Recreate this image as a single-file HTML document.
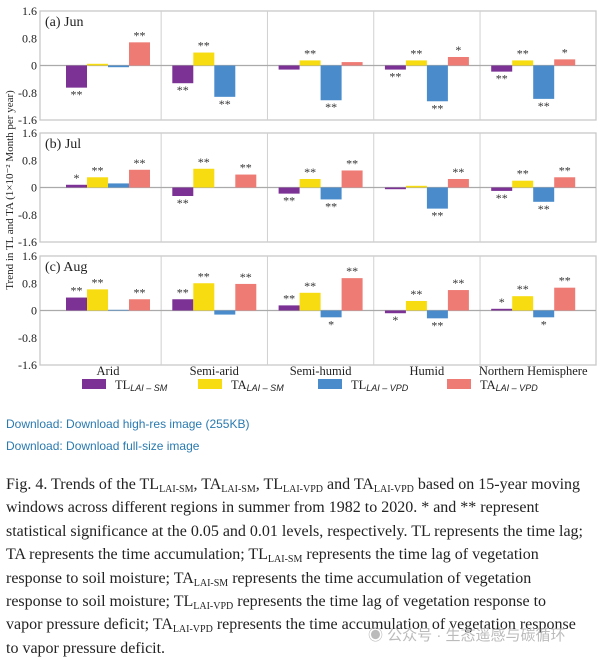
<!DOCTYPE html>
<html><head><meta charset="utf-8"><style>
body{margin:0;background:#fff;width:607px;height:659px;overflow:hidden;position:relative;font-family:"Liberation Serif",serif}
.lnk{position:absolute;left:6px;font:12px "Liberation Sans",sans-serif;color:#2a7ab0}
#cap{position:absolute;left:6px;top:473px;width:605px;font-size:16px;line-height:23.4px;color:#222;white-space:nowrap}
#cap sub{font-size:10px;vertical-align:-3px;line-height:0}
#wm{position:absolute;left:368px;top:624px;font:15px "Liberation Sans","Noto Sans CJK SC",sans-serif;color:#bbb}
</style></head><body>
<svg id="chart" width="607" height="400" style="position:absolute;left:0;top:0" font-family="Liberation Serif, serif"></svg>
<div class="lnk" style="top:417px">Download: Download high-res image (255KB)</div>
<div class="lnk" style="top:439px">Download: Download full-size image</div>
<div id="cap">Fig. 4. Trends of the TL<sub>LAI-SM</sub>, TA<sub>LAI-SM</sub>, TL<sub>LAI-VPD</sub> and TA<sub>LAI-VPD</sub> based on 15-year moving<br>windows across different regions in summer from 1982 to 2020. * and ** represent<br>statistical significance at the 0.05 and 0.01 levels, respectively. TL represents the time lag;<br>TA represents the time accumulation; TL<sub>LAI-SM</sub> represents the time lag of vegetation<br>response to soil moisture; TA<sub>LAI-SM</sub> represents the time accumulation of vegetation<br>response to soil moisture; TL<sub>LAI-VPD</sub> represents the time lag of vegetation response to<br>vapor pressure deficit; TA<sub>LAI-VPD</sub> represents the time accumulation of vegetation response<br>to vapor pressure deficit.</div>
<div id="wm">◉ 公众号 · 生态遥感与碳循环</div>
<script>
const categories=["Arid","Semi-arid","Semi-humid","Humid","Northern Hemisphere"];
const panels=["(a) Jun","(b) Jul","(c) Aug"];
const series=["TL_LAI-SM","TA_LAI-SM","TL_LAI-VPD","TA_LAI-VPD"];
const colors=["#7b3294","#f7dc11","#4a8ccb","#ee7b74"];
const junVals=[[-0.65,0.05,-0.05,0.68],[-0.52,0.38,-0.92,0],[-0.12,0.15,-1.02,0.1],[-0.12,0.15,-1.05,0.25],[-0.18,0.15,-0.98,0.18]];
const julVals=[[0.08,0.3,0.12,0.52],[-0.25,0.55,0,0.38],[-0.18,0.25,-0.35,0.5],[-0.05,0.05,-0.62,0.25],[-0.1,0.2,-0.42,0.3]];
const augVals=[[0.38,0.62,0.02,0.33],[0.33,0.8,-0.12,0.78],[0.15,0.52,-0.2,0.95],[-0.08,0.28,-0.23,0.6],[0.05,0.42,-0.2,0.67]];
const junSig=[["**","","","**"],["**","**","**",""],["","**","**",""],["**","**","**","*"],["**","**","**","*"]];
const julSig=[["*","**","","**"],["**","**","","**"],["**","**","**","**"],["","","**","**"],["**","**","**","**"]];
const augSig=[["**","**","","**"],["**","**","","**"],["**","**","*","**"],["*","**","**","**"],["*","**","*","**"]];
const ticks=[1.6,0.8,0,-0.8,-1.6];
const allVals=[junVals,julVals,augVals], allSig=[junSig,julSig,augSig];
const svg=document.getElementById('chart');const NS="http://www.w3.org/2000/svg";
function mk(t,a,p){const e=document.createElementNS(NS,t);for(const k in a)e.setAttribute(k,a[k]);(p||svg).appendChild(e);return e;}
const X0=40,X1=596,panelTop=[11,133,256],PH=109;
const cx=i=>108+i*106.3;const BW=21;
panels.forEach((pn,p)=>{
  const g=mk('g',{});
  
  
  const top=panelTop[p];
  const y=v=>top+PH/2-v*(PH/3.2);
  mk('rect',{x:X0,y:top,width:X1-X0,height:PH,fill:'none',stroke:'#c8c8c8','stroke-width':1.3},g);
  for(let i=1;i<categories.length;i++){const dx=(cx(i-1)+cx(i))/2;mk('line',{x1:dx,x2:dx,y1:top,y2:top+PH,stroke:'#d0d0d0'},g);}
  mk('line',{x1:X0,x2:X1,y1:y(0),y2:y(0),stroke:'#aaa','stroke-width':1.2},g);
  ticks.forEach(t=>{const tx=mk('text',{x:37,y:y(t)+4,'text-anchor':'end','font-size':12,fill:'#222'},g);tx.textContent=t===0?'0':t.toFixed(1);});
  const lab=mk('text',{x:45,y:top+15,'font-size':14,fill:'#222'},g);lab.textContent=pn;
  
  
  categories.forEach((c,i)=>{series.forEach((s,k)=>{
    const v=allVals[p][i][k];const x=cx(i)-42+k*BW;
    const r=mk('rect',{x:x,y:Math.min(y(v),y(0)),width:BW,height:Math.abs(y(v)-y(0)),fill:colors[k]},g);
    
    
    const sg=allSig[p][i][k];
    if(sg){const ty=v>=0?y(v)-3:y(v)+11;const st=mk('text',{x:x+BW/2,y:ty,'text-anchor':'middle','font-size':12,fill:'#333'},g);st.textContent=sg;}
  });});
  if(p===2){categories.forEach((c,i)=>{const t=mk('text',{x:cx(i),y:375,'text-anchor':'middle','font-size':12.5,fill:'#222'},g);t.textContent=c;
    
    });}
});
const yt=mk('text',{x:0,y:0,transform:'translate(13,190) rotate(-90)','text-anchor':'middle','font-size':11,fill:'#222'});
yt.textContent='Trend in TL and TA (1×10⁻² Month per year)';


const legX=[82,198,318,447];
series.forEach((s,k)=>{
  const lg=mk('g',{});
  
  
  mk('rect',{x:legX[k],y:379,width:24,height:10,fill:colors[k]},lg);
  const t=mk('text',{x:legX[k]+33,y:389,'font-size':12.5,fill:'#222'},lg);
  const [a,b]=s.split('_');t.textContent=a;
  const ts=mk('tspan',{'font-size':9,'font-style':'italic','font-family':'Liberation Sans, sans-serif',dy:2},t);ts.textContent=b.replace('-',' – ');
});
</script>
</body></html>
